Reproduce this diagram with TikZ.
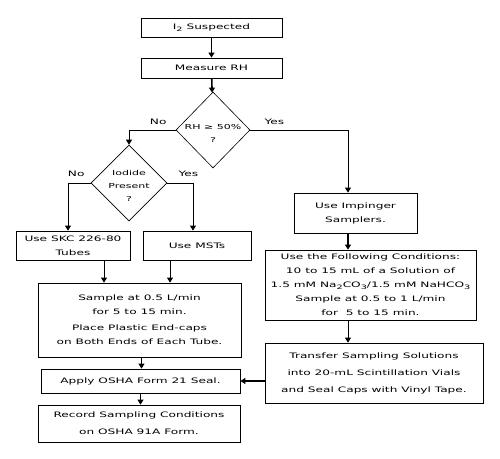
\documentclass[tikz,border=0pt]{standalone}
\usepackage{fontspec}
\usetikzlibrary{arrows.meta,positioning,shapes.geometric}
\newfontfamily\flowfont[FakeStretch=1.62]{DejaVu Sans}
\newcommand{\lowsub}[1]{\raisebox{-2pt}{\fontsize{6}{6}\selectfont #1}}

\begin{document}
\begin{tikzpicture}[x=1pt,y=-1pt,
	box/.style={draw, line width=0.8pt, inner sep=0pt, align=center, font=\flowfont\fontsize{7.5}{14}\selectfont},
	dec/.style={draw, diamond, inner sep=0pt, line width=0.6pt, minimum width=74pt, minimum height=76pt},
	dectxt/.style={align=center, font=\flowfont\fontsize{6.8}{13}\selectfont},
	lbl/.style={inner sep=0pt, font=\flowfont\fontsize{7.5}{9}\selectfont},
	arr/.style={-{Triangle[width=6pt,length=5pt]}, line width=0.8pt},
	bigarr/.style={arr, line width=1.6pt}]
	\useasboundingbox (0,0) rectangle (500,458);
	% top of the chart
	\node[box, minimum width=141pt, minimum height=19pt] (susp) at (211.5,27.5) {I\lowsub{2} Suspected};
	\node[box, minimum width=141pt, minimum height=20pt] (meas) at (211.5,68) {Measure RH};
	\node[dec] (rh) at (213,130) {};
	\node[dectxt] (rhq) at (213,133) {RH ≥ 50\%\\?};
	\node[dec, minimum width=76pt] (iod) at (129,183) {};
	\node[dectxt] (iodq) at (129,186) {Iodide\\Present\\?};
	% left branch
	\node[box, minimum width=114pt, minimum height=29pt] (skc) at (73,245.5) {Use SKC 226-80\\Tubes};
	\node[box, minimum width=108pt, minimum height=29pt] (mst) at (197,245.5) {Use MSTs};
	\node[box, minimum width=203pt, minimum height=74pt] (samp) at (139.5,320) {Sample at 0.5 L/min\\for 5 to 15 min.\\[2pt]Place Plastic End-caps\\on Both Ends of Each Tube.};
	\node[box, minimum width=199pt, minimum height=24pt] (apply) at (140.5,381) {Apply OSHA Form 21 Seal.};
	\node[box, minimum width=202pt, minimum height=37pt] (rec) at (139,423.5) {Record Sampling Conditions\\[3pt]on OSHA 91A Form.};
	% right branch
	\node[box, minimum width=123pt, minimum height=40pt] (imp) at (355.5,213) {Use Impinger\\Samplers.};
	\node[box, minimum width=211pt, minimum height=70pt] (cond) at (370.5,285) {Use the Following Conditions:\\10 to 15 mL of a Solution of\\1.5 mM Na\lowsub{2}CO\lowsub{3}/1.5 mM NaHCO\lowsub{3}\\Sample at 0.5 to 1 L/min\\for \ 5 to 15 min.};
	\node[box, minimum width=218pt, minimum height=60pt] (trans) at (374,373) {Transfer Sampling Solutions\\[3pt]into 20-mL Scintillation Vials\\[3pt]and Seal Caps with Vinyl Tape.};
	% branch labels
	\node[lbl, above left=5pt and 9pt of rh.west] {No};
	\node[lbl, above right=5pt and 14pt of rh.east] {Yes};
	\node[lbl, above left=6pt and 6pt of iod.west] {No};
	\node[lbl, above right=6pt and 11pt of iod.east] {Yes};
	% connection points
	\coordinate (impin) at ([xshift=-7.5pt]imp.north);
	\coordinate (impout) at ([xshift=-7.5pt]imp.south);
	\coordinate (skcin) at ([xshift=-5pt]skc.north);
	\coordinate (mstin) at ([xshift=-4pt]mst.north);
	\coordinate (skcout) at ([xshift=31pt]skc.south);
	\coordinate (mstout) at ([xshift=-27pt]mst.south);
	\coordinate (sampout) at ([xshift=2pt]samp.south);
	% connectors
	\draw[bigarr] (susp) -- (meas);
	\draw[bigarr] (meas) -- (rh);
	\draw[arr] (rh.west) -| (iod.north);
	\draw[arr, line width=1pt] (rh.east) -| (impin);
	\draw[arr] (iod.west) -| (skcin);
	\draw[arr] (iod.east) -| (mstin);
	\draw[arr] (skcout) -- (skcout |- samp.north);
	\draw[arr] (mstout) -- (mstout |- samp.north);
	\draw[arr] (sampout) -- (sampout |- apply.north);
	\draw[arr] (apply.south) -- (apply.south |- rec.north);
	\draw[bigarr] (impout) -- (impout |- cond.north);
	\draw[arr] (impout |- cond.south) -- (impout |- trans.north);
	\draw[bigarr, line width=2pt] (trans.west |- apply.east) -- (apply.east);
\end{tikzpicture}
\end{document}
